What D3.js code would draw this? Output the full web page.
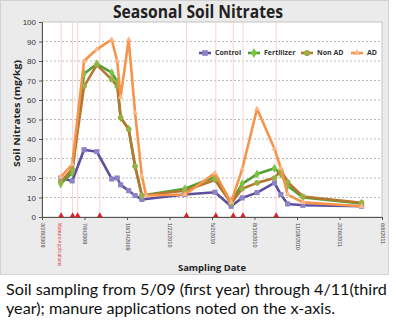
<!DOCTYPE html>
<html>
<head>
<meta charset="utf-8">
<script src="https://cdn.jsdelivr.net/npm/d3@7"></script>
<style>
  body { margin: 0; background: #fff; }
  svg { display: block; font-family: "Open Sans", "Noto Sans", sans-serif; }
</style>
</head>
<body>
<script>
// sampling dates (Control, Fertilizer, Non AD)
const sampleDates = ["5/11/2009", "6/7/2009", "7/5/2009", "8/4/2009", "9/8/2009", "9/21/2009",
  "9/29/2009", "10/18/2009", "11/2/2009", "11/18/2009", "2/27/2010", "5/9/2010", "6/16/2010",
  "7/12/2010", "8/16/2010", "9/26/2010", "10/11/2010", "10/27/2010", "12/2/2010", "4/19/2011"];
const control = [20, 18.5, 34.5, 33.5, 19.5, 20, 16.5, 13.5, 11, 9, 11.5, 12.7, 5.5, 9.8, 12.5, 17.5, 11.5, 6.7, 6, 5.5];
const fertilizer = [17, 22.7, 73.5, 78.5, 74, 69.5, 51, 45, 26, 11, 14.5, 20.5, 7.5, 17, 22, 25, 22, 16, 10, 7];
const nonAD = [18, 24.5, 67, 78, 70.5, 67, 51, 45, 26, 11, 13.5, 19, 7, 14.5, 17.5, 20, 24, 18, 10.5, 7.3];
// AD has one extra sample in Nov 2009
const adDates = ["5/11/2009", "6/7/2009", "7/5/2009", "8/4/2009", "9/8/2009", "9/21/2009",
  "9/29/2009", "10/18/2009", "11/2/2009", "11/18/2009", "11/28/2009", "2/27/2010", "5/9/2010",
  "6/16/2010", "7/12/2010", "8/16/2010", "9/26/2010", "10/11/2010", "10/27/2010", "12/2/2010", "4/19/2011"];
const ad = [20.5, 27, 80, 86, 91, 80, 61.5, 91, 53.5, 21, 11, 11.5, 22.5, 7.5, 24.5, 55.5, 35, 25, 11.5, 7.5, 5.5];

const manureDates = ["5/12/2009", "6/8/2009", "6/20/2009", "8/11/2009", "3/3/2010", "5/11/2010",
  "6/21/2010", "7/14/2010", "9/30/2010"];
const xTickLabels = ["3/28/2009", "7/6/2009", "10/14/2009", "1/22/2010", "5/2/2010", "8/10/2010",
  "11/18/2010", "2/26/2011", "6/6/2011"];
const yTicks = [0, 10, 20, 30, 40, 50, 60, 70, 80, 90, 100];

const W = 396, H = 321;
const plot = { left: 42, right: 382, top: 22, bottom: 217 };
const parse = d3.utcParse("%m/%d/%Y");

const series = [
  { name: "Control", dates: sampleDates, values: control, line: "#5d4f9e", mark: "#8c82c6", shape: d3.symbolSquare, size: 26 },
  { name: "Fertilizer", dates: sampleDates, values: fertilizer, line: "#52a033", mark: "#7cc244", shape: d3.symbolDiamond, size: 24 },
  { name: "Non AD", dates: sampleDates, values: nonAD, line: "#b7772f", mark: "#9aaf45", shape: d3.symbolCircle, size: 24 },
  { name: "AD", dates: adDates, values: ad, line: "#f7944c", mark: "#fbb88a", shape: d3.symbolTriangle, size: 14 }
];

const svg = d3.select("body").append("svg").attr("width", W).attr("height", H);

// grey panel
svg.append("rect").attr("x", 0.5).attr("y", 0.5).attr("width", 388).attr("height", 274)
  .attr("fill", "#ebebeb").attr("stroke", "#d2d2d2");

svg.append("rect").attr("x", plot.left).attr("y", plot.top)
  .attr("width", plot.right - plot.left).attr("height", plot.bottom - plot.top)
  .attr("fill", "#fff").attr("stroke", "#c4c4c4");

const x = d3.scaleUtc()
  .domain([parse(xTickLabels[0]), parse(xTickLabels[xTickLabels.length - 1])])
  .range([plot.left, plot.right]);
const y = d3.scaleLinear().domain([0, 100]).range([plot.bottom, plot.top]);

// dashed horizontal grid
svg.append("g").selectAll("line")
  .data(yTicks.filter(d => d > 0 && d < 100))
  .join("line")
  .attr("x1", plot.left).attr("x2", plot.right)
  .attr("y1", d => y(d)).attr("y2", d => y(d))
  .attr("stroke", "#a8a8a8").attr("stroke-dasharray", "2,2").attr("stroke-width", 0.8);

// manure application lines
svg.append("g").selectAll("line")
  .data(manureDates.map(parse))
  .join("line")
  .attr("x1", d => x(d)).attr("x2", d => x(d))
  .attr("y1", plot.top).attr("y2", plot.bottom)
  .attr("stroke", "#f6d3d0").attr("stroke-width", 1);

// axes
const yAxis = svg.append("g")
  .attr("transform", `translate(${plot.left},0)`)
  .call(d3.axisLeft(y).tickValues(yTicks).tickSize(3).tickPadding(3));
yAxis.select(".domain").attr("stroke", "#555");
yAxis.selectAll(".tick line").attr("stroke", "#555");
yAxis.selectAll("text").attr("font-size", 8).attr("fill", "#333");

const xAxis = svg.append("g")
  .attr("transform", `translate(0,${plot.bottom})`)
  .call(d3.axisBottom(x).tickValues(xTickLabels.map(parse)).tickSize(3)
    .tickFormat((d, i) => xTickLabels[i]));
xAxis.select(".domain").attr("stroke", "#555");
xAxis.selectAll(".tick line").attr("stroke", "#555");
xAxis.selectAll("text")
  .attr("font-size", 5.5).attr("fill", "#444")
  .attr("text-anchor", "start")
  .attr("transform", "rotate(90)")
  .attr("x", 6).attr("y", 0).attr("dy", "0.35em");

// manure triangles
svg.append("g").selectAll("path")
  .data(manureDates.map(parse))
  .join("path")
  .attr("transform", d => `translate(${x(d)},${plot.bottom - 1.5})`)
  .attr("d", d3.symbol(d3.symbolTriangle, 14))
  .attr("fill", "#d8232a");

svg.append("text")
  .attr("transform", `translate(${x(parse(manureDates[0])) - 1.5},${plot.bottom + 6}) rotate(90)`)
  .attr("font-size", 4.5).attr("fill", "#d8232a").attr("dy", "0.35em")
  .text("Manure Applications");

// series
const line = d3.line().x(d => x(d.date)).y(d => y(d.v));
series.forEach(s => {
  const pts = s.values.map((v, i) => ({ date: parse(s.dates[i]), v }));
  const g = svg.append("g");
  g.append("path").datum(pts).attr("d", line)
    .attr("fill", "none").attr("stroke", s.line).attr("stroke-width", 2.6)
    .attr("stroke-linejoin", "round");
  g.selectAll("path.m").data(pts).join("path").attr("class", "m")
    .attr("transform", d => `translate(${x(d.date)},${y(d.v)})`)
    .attr("d", d3.symbol(s.shape, s.size))
    .attr("fill", s.mark);
});

// legend
const legendX = [199, 248, 301, 351];
const lg = svg.append("g").attr("transform", "translate(0,53)");
series.forEach((s, i) => {
  const it = lg.append("g").attr("transform", `translate(${legendX[i]},0)`);
  it.append("line").attr("x1", 0).attr("x2", 12).attr("stroke", s.line).attr("stroke-width", 2.6);
  it.append("path").attr("transform", "translate(6,0)")
    .attr("d", d3.symbol(s.shape, s.size + 6)).attr("fill", s.mark);
  it.append("text").attr("x", 16).attr("dy", "0.35em")
    .attr("font-size", 7).attr("font-weight", "bold").attr("fill", "#333").text(s.name);
});

// titles
svg.append("text").attr("x", 198).attr("y", 18).attr("text-anchor", "middle")
  .attr("font-size", 17).attr("font-weight", "bold").attr("fill", "#222")
  .attr("textLength", 170).attr("lengthAdjust", "spacingAndGlyphs")
  .text("Seasonal Soil Nitrates");

svg.append("text")
  .attr("transform", `translate(20,${(plot.top + plot.bottom) / 2 - 6}) rotate(-90)`)
  .attr("text-anchor", "middle").attr("font-size", 9.5).attr("font-weight", "bold").attr("fill", "#222")
  .attr("textLength", 107).attr("lengthAdjust", "spacingAndGlyphs")
  .text("Soil Nitrates (mg/kg)");

svg.append("text").attr("x", (plot.left + plot.right) / 2).attr("y", 271).attr("text-anchor", "middle")
  .attr("font-size", 9.5).attr("font-weight", "bold").attr("fill", "#222")
  .attr("textLength", 68).attr("lengthAdjust", "spacingAndGlyphs")
  .text("Sampling Date");

// caption: size the font so the first line spans the panel width, same size for both lines
const cap1 = svg.append("text").attr("x", 6).attr("y", 295)
  .attr("font-family", "Lato, sans-serif").attr("font-size", 15).attr("fill", "#111")
  .text("Soil sampling from 5/09 (first year) through 4/11(third");
const capSize = 15 * 381 / cap1.node().getComputedTextLength();
cap1.attr("font-size", capSize);
svg.append("text").attr("x", 6).attr("y", 313.5)
  .attr("font-family", "Lato, sans-serif").attr("font-size", capSize).attr("fill", "#111")
  .text("year); manure applications noted on the x-axis.");
</script>
</body>
</html>
